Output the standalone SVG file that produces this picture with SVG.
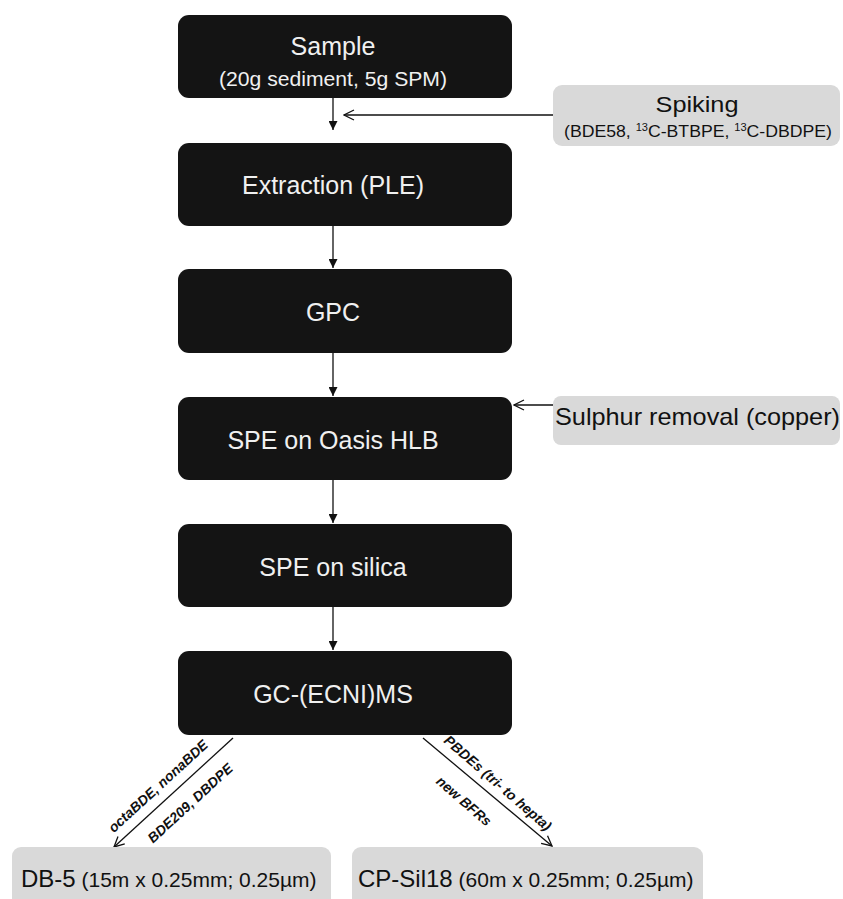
<svg xmlns="http://www.w3.org/2000/svg" width="843" height="899" viewBox="0 0 843 899">
<style>
.dark{fill:#141414;}
.light{fill:#d9d9d9;}
.wt{fill:#f0f0f0;font-family:"Liberation Sans",Arial,sans-serif;font-size:25px;text-anchor:middle;}
.bt{fill:#111;font-family:"Liberation Sans",Arial,sans-serif;}
.lbl{fill:#111;font-family:"Liberation Sans",Arial,sans-serif;font-size:14px;font-weight:bold;font-style:italic;text-anchor:middle;}
.ln{stroke:#111;stroke-width:1.3;fill:none;}
</style>
<defs>
<marker id="fa" markerUnits="userSpaceOnUse" viewBox="0 0 10 10" markerWidth="11" markerHeight="9" refX="10" refY="5" orient="auto">
<path d="M0,0 L10,5 L0,10 z" fill="#111"/>
</marker>
<marker id="oa" markerUnits="userSpaceOnUse" viewBox="0 0 12 12" markerWidth="12" markerHeight="12" refX="11" refY="6" orient="auto">
<path d="M1,1 L11,6 L1,11" fill="none" stroke="#111" stroke-width="1.3"/>
</marker>
</defs>
<rect width="843" height="899" fill="#ffffff"/>

<g id="connectors">
<line class="ln" x1="333" y1="98" x2="333" y2="130" marker-end="url(#fa)"/>
<line class="ln" x1="553" y1="115" x2="344" y2="115" marker-end="url(#oa)"/>
<line class="ln" x1="333" y1="226" x2="333" y2="268" marker-end="url(#fa)"/>
<line class="ln" x1="333" y1="353" x2="333" y2="396" marker-end="url(#fa)"/>
<line class="ln" x1="553" y1="405" x2="514" y2="405" marker-end="url(#oa)"/>
<line class="ln" x1="333" y1="480" x2="333" y2="523" marker-end="url(#fa)"/>
<line class="ln" x1="333" y1="607" x2="333" y2="650" marker-end="url(#fa)"/>
<line class="ln" x1="233" y1="738" x2="114" y2="847" marker-end="url(#oa)"/>
<line class="ln" x1="423" y1="738" x2="552" y2="846" marker-end="url(#oa)"/>
<text class="lbl" transform="translate(158,786) rotate(-42.5)" y="5">octaBDE, nonaBDE</text>
<text class="lbl" transform="translate(190,803) rotate(-42.5)" y="5">BDE209, DBDPE</text>
<text class="lbl" transform="translate(498,783) rotate(41)" y="5">PBDEs (tri- to hepta)</text>
<text class="lbl" transform="translate(464,801) rotate(41)" y="5">new BFRs</text>
</g>

<g id="sample">
<rect class="dark" x="178" y="15" width="334" height="83" rx="11"/>
<text class="wt" x="333" y="55">Sample</text>
<text class="wt" x="333" y="86" style="font-size:20px" textLength="228" lengthAdjust="spacingAndGlyphs">(20g sediment, 5g SPM)</text>
</g>

<g id="spiking">
<rect class="light" x="553" y="85" width="287" height="61" rx="9"/>
<text class="bt" x="697" y="112" text-anchor="middle" font-size="22" textLength="83" lengthAdjust="spacingAndGlyphs">Spiking</text>
<text class="bt" x="698" y="137" text-anchor="middle" font-size="16" textLength="268" lengthAdjust="spacingAndGlyphs">(BDE58, <tspan font-size="10" dy="-6">13</tspan><tspan dy="6">C-BTBPE, </tspan><tspan font-size="10" dy="-6">13</tspan><tspan dy="6">C-DBDPE)</tspan></text>
</g>

<g id="extraction">
<rect class="dark" x="178" y="143" width="334" height="83" rx="11"/>
<text class="wt" x="333" y="194">Extraction (PLE)</text>
</g>

<g id="gpc">
<rect class="dark" x="178" y="269" width="334" height="84" rx="11"/>
<text class="wt" x="333" y="321">GPC</text>
</g>

<g id="spe-oasis">
<rect class="dark" x="178" y="397" width="334" height="83" rx="11"/>
<text class="wt" x="333" y="449">SPE on Oasis HLB</text>
</g>

<g id="sulphur">
<rect class="light" x="553" y="396" width="287" height="49" rx="8"/>
<text class="bt" x="555" y="425" font-size="24" textLength="285" lengthAdjust="spacingAndGlyphs">Sulphur removal (copper)</text>
</g>

<g id="spe-silica">
<rect class="dark" x="178" y="524" width="334" height="83" rx="11"/>
<text class="wt" x="333" y="576">SPE on silica</text>
</g>

<g id="gcms">
<rect class="dark" x="178" y="651" width="334" height="84" rx="11"/>
<text class="wt" x="333" y="703">GC-(ECNI)MS</text>
</g>

<g id="db5">
<rect class="light" x="12" y="847" width="319" height="70" rx="9"/>
<text class="bt" x="21" y="887" font-size="24">DB-5<tspan font-size="21"> (15m x 0.25mm; 0.25µm)</tspan></text>
</g>

<g id="cpsil18">
<rect class="light" x="352" y="847" width="351" height="70" rx="9"/>
<text class="bt" x="358" y="887" font-size="24">CP-Sil18<tspan font-size="21"> (60m x 0.25mm; 0.25µm)</tspan></text>
</g>
</svg>
